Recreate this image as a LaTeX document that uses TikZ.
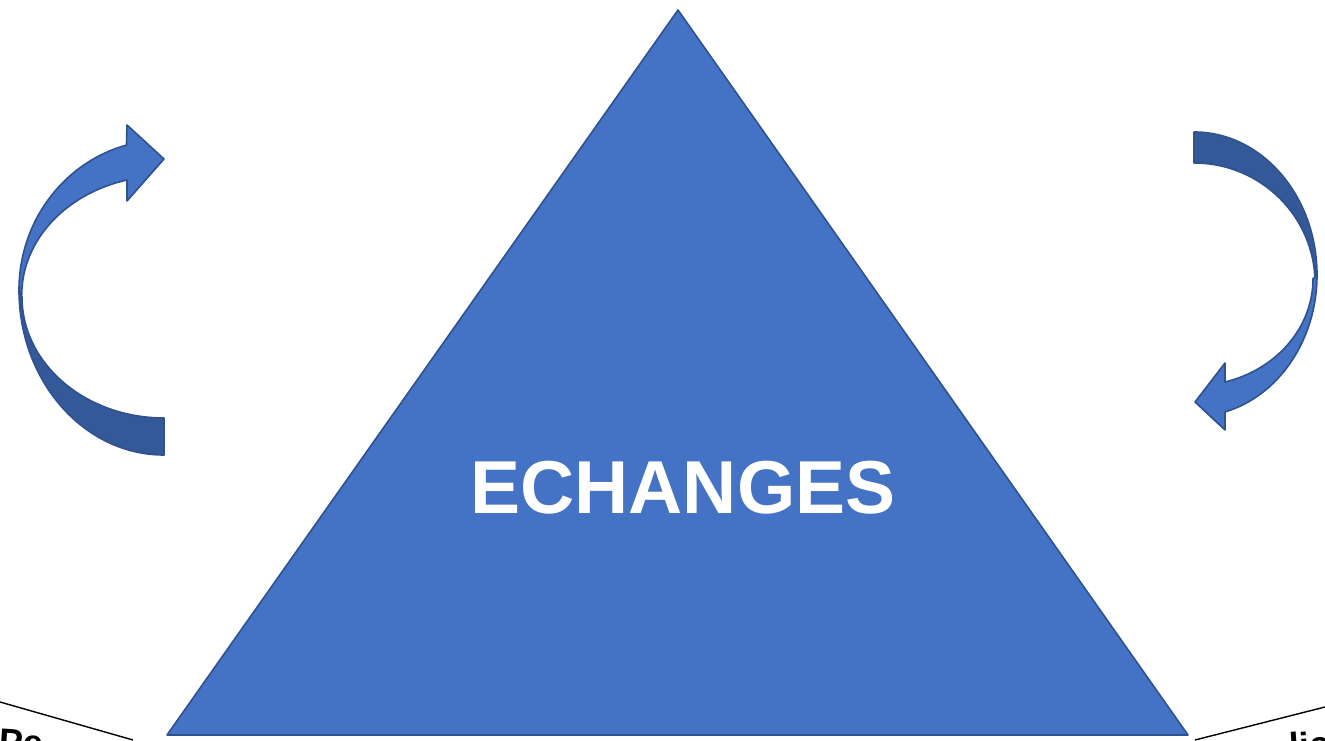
\documentclass[tikz,border=0pt]{standalone}
\usepackage{fontspec}
\setmainfont{Liberation Sans}
\definecolor{lightblue}{RGB}{68,114,196}
\definecolor{darkblue}{RGB}{52,89,153}
\definecolor{edgeblue}{RGB}{47,82,143}
\tikzset{
  face/.style={fill=lightblue,draw=edgeblue,line width=1.6pt,line join=round},
  back/.style={fill=darkblue,draw=edgeblue,line width=1.6pt,line join=round},
  cut/.style={font=\fontsize{36}{40}\selectfont\bfseries,inner sep=0pt}
}
\begin{document}
\begin{tikzpicture}
        [x=1pt,y=1pt]
        \useasboundingbox (0,0) rectangle (1325,741);
        \clip (0,0) rectangle (1325,741);

        \coordinate (top) at (678,731);
        \coordinate (bl) at (167,6);
        \coordinate (br) at (1188,6);
        \draw[face] (top) -- (bl) -- (br) -- cycle;
        \node[font=\fontsize{75}{80}\selectfont\bfseries,text=white] (echanges) at (683,253) {ECHANGES};

        \draw[back] (19,451) arc[start angle=180,end angle=270,x radius=145,y radius=165]
          -- (164,323) arc[start angle=270,end angle=180,x radius=142,y radius=121] -- cycle;
        \draw[face] (19,451) arc[start angle=180,end angle=105,x radius=145,y radius=150]
          -- (127,616) -- (164,582) -- (127,540) -- (127,561)
          arc[start angle=105,end angle=180,x radius=142,y radius=119] -- cycle;

        \draw[back] (1317,466) arc[start angle=0,end angle=90,x radius=123,y radius=143]
          -- (1194,578) arc[start angle=90,end angle=0,x radius=121,y radius=120] -- cycle;
        \draw[face] (1317,466) arc[start angle=0,end angle=-75.4,x radius=123,y radius=141.5]
          -- (1225,311) -- (1195,339) -- (1225,378) -- (1225,359)
          arc[start angle=-74.9,end angle=0,x radius=119,y radius=107] -- cycle;

        \coordinate (la) at (0,39);
        \coordinate (lb) at (133,1);
        \coordinate (ra) at (1195,1);
        \coordinate (rb) at (1325,34);
        \draw[line width=1.4pt] (la) -- (lb);
        \draw[line width=1.4pt] (ra) -- (rb);

        \node[cut,anchor=base west,rotate=-4] (left) at (-2,-12) {Pe};
        \node[cut,anchor=base west,rotate=4] (right) at (1290,-18) {lic};
      \end{tikzpicture}
\end{document}
